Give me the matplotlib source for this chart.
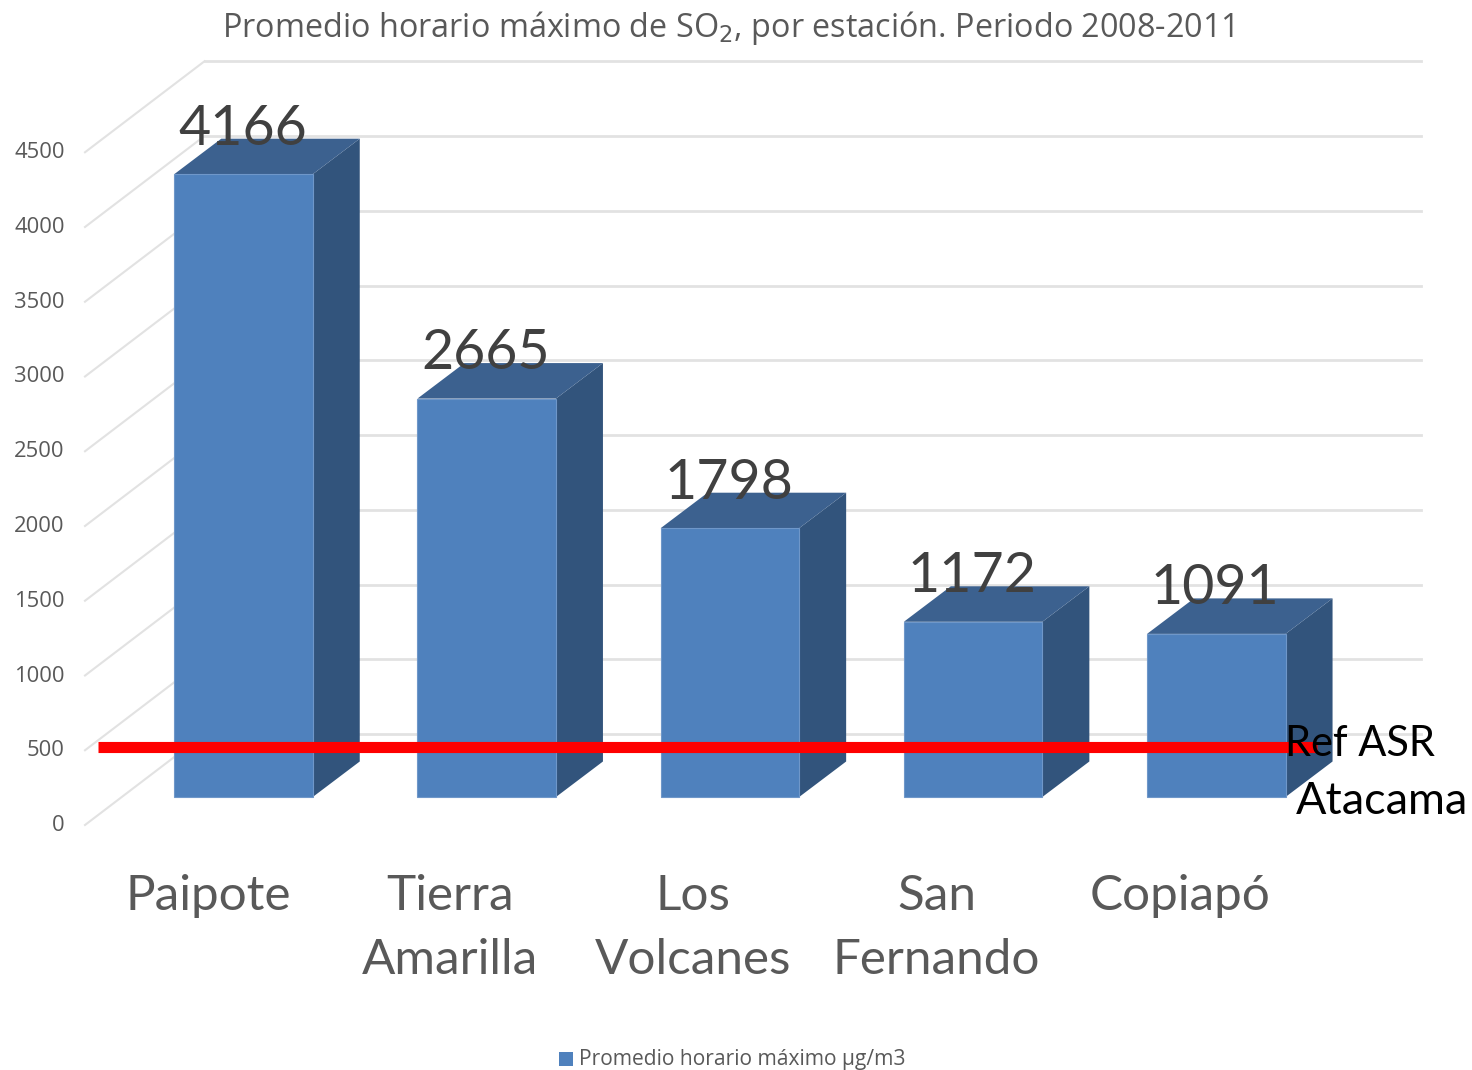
import matplotlib.pyplot as plt
from matplotlib.patches import Rectangle

plt.rcParams['font.family'] = ['Open Sans', 'DejaVu Sans']

# Datos
estaciones = ['Paipote', 'Tierra\nAmarilla', 'Los\nVolcanes', 'San\nFernando', 'Copiapó']
promedio = [4166, 2665, 1798, 1172, 1091]
ticks = [0, 500, 1000, 1500, 2000, 2500, 3000, 3500, 4000, 4500]
ref_asr = 500

titulo = 'Promedio horario máximo de SO$_{2}$, por estación. Periodo 2008-2011'
leyenda = 'Promedio horario máximo µg/m3'
ref_texto = ['Ref ASR', 'Atacama']

# Escala: pixeles por categoria y por unidad de valor
W, H = 1472, 1070
px_x = 243.2
px_y = 0.1495
x0_px = 243.5
y0_px = 797.0

fig = plt.figure(figsize=(W / 100, H / 100), dpi=100)
ax = fig.add_axes([0, 0, 1, 1])
ax.set_xlim(-x0_px / px_x, (W - x0_px) / px_x)
ax.set_ylim((y0_px - H) / px_y, y0_px / px_y)
ax.axis('off')


def dx(px):
    return px / px_x


def dy(px):
    return px / px_y


# Pared del fondo y lineas diagonales
ancho = dx(138.5) / 2
prof_x, prof_y = dx(47), dy(35.5)
pared_x0 = dx(85 - x0_px)
pared_x1 = dx(204.5 - x0_px)
pared_x2 = dx(1421 - x0_px)
piso = dy(797 - 825)
pared_dy = dy(91)
gris = '#e2e2e2'
for t in ticks:
    y = piso + t
    ax.plot([pared_x0, pared_x1], [y, y + pared_dy], color=gris, lw=1.5, zorder=1)
    ax.plot([pared_x1, pared_x2], [y + pared_dy, y + pared_dy], color=gris, lw=2, zorder=1)
    ax.text(dx(64.5 - x0_px), y - dy(0.5), str(t), ha='right', va='center', fontsize=15.8,
            color='#595959', zorder=5)

# Barras con efecto 3D
for i, v in enumerate(promedio):
    izq, der = i - ancho, i + ancho
    ax.fill([der, der + prof_x, der + prof_x, der], [0, prof_y, v + prof_y, v],
            color='#32547c', lw=0, zorder=2)
    ax.fill([izq, izq + prof_x, der + prof_x, der], [v, v + prof_y, v + prof_y, v],
            color='#3c618f', lw=0, zorder=2)
    ax.add_patch(Rectangle((izq, 0), der - izq, v, facecolor='#4f81bd',
                           edgecolor='#6f97c9', lw=0.8, zorder=3))
    ax.text(i - dx(1), v + dy(29.5), str(v), ha='center', va='baseline', fontsize=40,
            family=['Lato', 'DejaVu Sans'], color='#404040', zorder=6)

# Linea de referencia
ax.plot([dx(98 - x0_px), dx(1317 - x0_px)], [dy(797 - 747.2)] * 2, color='#ff0000',
        lw=8, solid_capstyle='butt', zorder=4)

ax.text(dx(1284.5 - x0_px), dy(797 - 756), ref_texto[0], ha='left', va='baseline',
        fontsize=30, family=['Lato', 'DejaVu Sans'], color='black', zorder=6)
ax.text(dx(1295.5 - x0_px), dy(797 - 814), ref_texto[1], ha='left', va='baseline',
        fontsize=32.4, family=['Lato', 'DejaVu Sans'], color='black', zorder=6)

# Etiquetas de categoria
for i, e in enumerate(estaciones):
    lineas = e.split('\n')
    cx = i - dx(36.5) if i != 0 else dx(208 - x0_px)
    for j, l in enumerate(lineas):
        ax.text(cx, dy(797 - 909.5 - 65 * j), l, ha='center', va='baseline', fontsize=35.6,
                family=['Lato', 'DejaVu Sans'], color='#595959', zorder=6)

ax.text(dx(730 - x0_px) - dx(1.5), dy(797 - 37), titulo, ha='center', va='baseline', fontsize=23.3,
        color='#595959', zorder=6, math_fontfamily='dejavusans')

# Leyenda
ax.add_patch(Rectangle((dx(559 - x0_px), dy(797 - 1066)), dx(14), dy(14),
                       facecolor='#4f81bd', lw=0, zorder=6))
ax.text(dx(579 - x0_px), dy(797 - 1065), leyenda, ha='left', va='baseline', fontsize=15.1,
        color='#595959', zorder=6)

fig.savefig('out.png', dpi=100)
